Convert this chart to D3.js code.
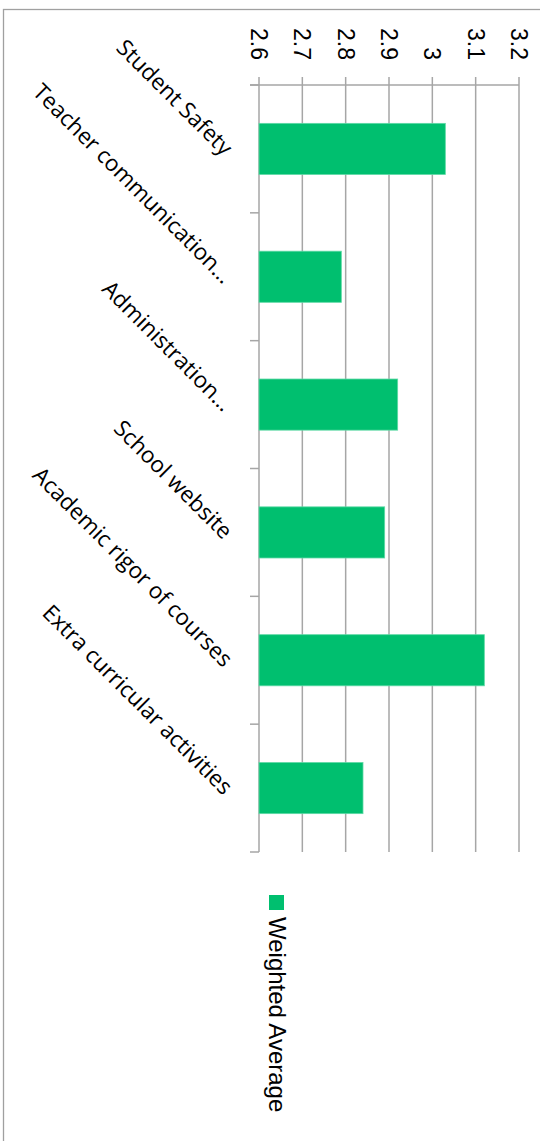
<!DOCTYPE html>
<html>
<head>
<meta charset="utf-8">
<script src="https://cdn.jsdelivr.net/npm/d3@7"></script>
<style>
  body { margin: 0; background: #fff; }
  svg { display: block; }
  .lbl { font-family: "Open Sans", sans-serif; fill: #000; }
  .num { font-family: "Liberation Sans", Arial, sans-serif; fill: #000; }
</style>
</head>
<body>
<div id="chart"></div>
<script>
// chart data
const categories = ["Student Safety", "Teacher communication…", "Administration…",
  "School website", "Academic rigor of courses", "Extra curricular activities"]
const values = [3.03, 2.79, 2.92, 2.89, 3.12, 2.84]
const valueTicks = [2.6, 2.7, 2.8, 2.9, 3, 3.1, 3.2]
const seriesName = "Weighted Average"

const W = 540, H = 1141
const plot = { left: 259, right: 519, top: 85, bottom: 852 }
const barColor = "#00bf6f"
const gridColor = "#a6a6a6"

const svg = d3.select("#chart").append("svg").attr("width", W).attr("height", H)

// outer chart border (runs off right and bottom)
svg.append("rect")
  .attr("x", 3.5).attr("y", 9.5)
  .attr("width", W + 10).attr("height", H + 10)
  .attr("fill", "none").attr("stroke", "#a0a0a0").attr("stroke-width", 1.3)

// value scale is horizontal, categories run down the page
const x = d3.scaleLinear().domain([2.6, 3.2]).range([plot.left, plot.right])
const y = d3.scaleBand().domain(categories).range([plot.top, plot.bottom])
  .paddingInner(0.6).paddingOuter(0.3)
const yb = d3.scaleBand().domain(categories).range([plot.top, plot.bottom])

// gridlines
svg.append("g").selectAll("line").data(valueTicks).join("line")
  .attr("x1", d => x(d)).attr("x2", d => x(d))
  .attr("y1", plot.top - 8).attr("y2", plot.bottom)
  .attr("stroke", gridColor).attr("stroke-width", 1.5)

// value axis line along the top
svg.append("line")
  .attr("x1", plot.left - 9).attr("x2", x(3.2))
  .attr("y1", plot.top).attr("y2", plot.top)
  .attr("stroke", gridColor).attr("stroke-width", 1.5)

// category ticks at band edges
const edges = categories.map(c => yb(c)).concat([plot.bottom])
svg.append("g").selectAll("line").data(edges).join("line")
  .attr("x1", plot.left - 9).attr("x2", plot.left)
  .attr("y1", d => d).attr("y2", d => d)
  .attr("stroke", gridColor).attr("stroke-width", 1.5)

// bars
svg.append("g").selectAll("rect").data(values).join("rect")
  .attr("x", x(2.6))
  .attr("y", (d, i) => y(categories[i]))
  .attr("width", d => x(d) - x(2.6))
  .attr("height", y.bandwidth())
  .attr("fill", barColor)
  .attr("stroke", "#5fd9a6").attr("stroke-width", 0.8)

// value tick labels, rotated clockwise
svg.append("g").selectAll("text").data(valueTicks).join("text")
  .attr("class", "num")
  .attr("transform", d => `translate(${x(d)},60) rotate(90)`)
  .attr("text-anchor", "end")
  .attr("dominant-baseline", "central")
  .attr("font-size", 23)
  .text(d => d)

// category labels at 45 degrees
svg.append("g").selectAll("text").data(categories).join("text")
  .attr("class", "lbl")
  .attr("transform", d => `translate(229,${yb(d) + yb.bandwidth() / 2 + 2}) rotate(45)`)
  .attr("text-anchor", "end")
  .attr("dominant-baseline", "central")
  .attr("font-size", 22.5)
  .text(d => d)

// legend
const lg = svg.append("g").attr("transform", "translate(269,895)")
lg.append("rect").attr("width", 15).attr("height", 15).attr("fill", barColor)
lg.append("text")
  .attr("class", "num")
  .attr("transform", "translate(8,22) rotate(90)")
  .attr("dominant-baseline", "central")
  .attr("font-size", 24)
  .text(seriesName)
</script>
</body>
</html>
